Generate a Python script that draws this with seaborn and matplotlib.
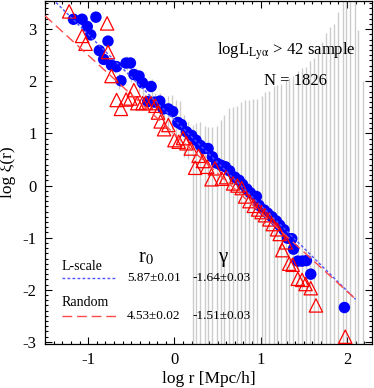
import numpy as np
import pandas as pd
import matplotlib
matplotlib.use("Agg")
import matplotlib.pyplot as plt
from matplotlib.ticker import MultipleLocator
import seaborn as sns

# ---------------- data ----------------
# L-scale sample: log r, log xi
blue_x = [-1.17, -1.07, -1.01, -0.97, -0.91, -0.87, -0.82, -0.77, -0.73, -0.67,
          -0.62, -0.56, -0.51, -0.47, -0.41, -0.37, -0.31, -0.27, -0.23, -0.17,
          -0.13, -0.07, -0.02, 0.04, 0.08, 0.14, 0.20, 0.25, 0.30, 0.34,
          0.39, 0.44, 0.49, 0.54, 0.59, 0.64, 0.70, 0.75, 0.79, 0.84,
          0.88, 0.95, 0.98, 1.04, 1.08, 1.13, 1.18, 1.22, 1.27, 1.31,
          1.36, 1.38, 1.43, 1.48, 1.53, 1.58, 1.97]
blue_y = [3.19, 3.19, 3.05, 2.89, 3.23, 2.59, 2.42, 2.77, 2.31, 2.28,
          2.01, 2.35, 2.35, 2.13, 2.10, 1.97, 1.61, 1.90, 1.60, 1.62,
          1.47, 1.47, 1.42, 1.21, 1.17, 1.03, 0.96, 0.87, 0.77, 0.71,
          0.71, 0.55, 0.43, 0.39, 0.36, 0.28, 0.16, 0.10, 0.02, -0.07,
          -0.14, -0.21, -0.38, -0.47, -0.53, -0.60, -0.68, -0.76, -0.85, -1.01,
          -1.02, -1.22, -1.45, -1.45, -1.44, -1.70, -2.34]

# Random sample
red_x = [-1.22, -1.07, -1.03, -0.78, -0.77, -0.73, -0.67, -0.62, -0.56, -0.51,
         -0.47, -0.43, -0.37, -0.33, -0.27, -0.22, -0.19, -0.16, -0.12, -0.07,
         0.00, 0.05, 0.10, 0.14, 0.19, 0.24, 0.28, 0.33, 0.38, 0.43,
         0.47, 0.55, 0.60, 0.68, 0.73, 0.78, 0.82, 0.87, 0.92, 0.97,
         1.01, 1.05, 1.10, 1.14, 1.19, 1.22, 1.25, 1.29, 1.33, 1.37,
         1.43, 1.48, 1.52, 1.58, 1.64, 1.98]
red_y = [3.34, 2.87, 2.72, 3.11, 2.56, 2.10, 1.64, 1.47, 1.65, 1.67,
         1.83, 1.58, 1.58, 1.59, 1.58, 1.53, 1.40, 1.23, 1.08, 1.16,
         0.87, 0.84, 0.91, 0.81, 0.71, 0.34, 0.57, 0.47, 0.36, 0.12,
         0.33, 0.13, 0.16, 0.04, 0.00, -0.05, -0.21, -0.30, -0.39, -0.46,
         -0.51, -0.57, -0.65, -0.74, -0.84, -0.93, -1.24, -1.09, -1.50, -1.52,
         -1.79, -1.81, -1.89, -1.97, -2.30, -2.90]

# error bars (gray): bin centre, upper and lower log value (lower below axis = -3.5)
err_x = [-0.69, -0.64, -0.59, -0.55, -0.50, -0.45, -0.41, -0.36, -0.31, -0.26,
         -0.22, -0.17, -0.12, -0.08, -0.03, 0.02, 0.07, 0.11, 0.16, 0.21,
         0.25, 0.30, 0.35, 0.39, 0.44, 0.49, 0.54, 0.58, 0.63, 0.68,
         0.72, 0.77, 0.82, 0.86, 0.91, 0.96, 1.01, 1.05, 1.10, 1.15,
         1.19, 1.24, 1.29, 1.33, 1.38, 1.43, 1.48, 1.52, 1.57, 1.62,
         1.66, 1.71, 1.76, 1.80, 1.85, 1.90, 1.95, 1.99, 2.04, 2.09,
         2.13, 2.18]
err_hi = [2.40, 2.15, 2.45, 2.48, 2.28, 2.25, 2.12, 2.05, 1.75, 2.05,
          1.78, 1.78, 1.68, 1.72, 1.74, 1.65, 1.62, 1.35, 1.22, 1.16,
          1.20, 1.22, 1.15, 1.12, 1.12, 1.15, 1.25, 1.35, 1.48, 1.50,
          1.52, 1.60, 1.64, 1.65, 1.66, 1.66, 1.72, 1.80, 1.82, 1.90,
          1.93, 1.95, 2.02, 2.06, 2.10, 2.20, 2.25, 2.28, 2.38, 2.45,
          2.60, 2.75, 2.92, 3.05, 3.10, 3.32, 3.80, 3.80, 3.80, 3.80,
          2.98, 2.00]
err_lo = [2.15, 1.85, 2.20, 2.22, 1.98, 1.95, 1.80, 1.70, 1.45, 1.70,
          1.42, 1.40, 1.15, 1.05, 0.95, 0.80, 0.78, 0.55, 0.50, -3.5,
          -3.5, -3.5, -3.5, -3.5, -3.5, -3.5, -3.5, -3.5, -3.5, -3.5,
          -3.5, -3.5, -3.5, -3.5, -3.5, -3.5, -3.5, -3.5, -3.5, -3.5,
          -3.5, -3.5, -3.5, -3.5, -3.5, -3.5, -3.5, -3.5, -3.5, -3.5,
          -3.5, -3.5, -3.5, -3.5, -3.5, -3.5, -3.5, -3.5, -3.5, -3.5,
          -3.5, -3.5]

# power-law fits
fit_names = ["L-scale", "Random"]
fit_r0 = [5.87, 4.53]
fit_r0_err = [0.01, 0.02]
fit_gamma = [-1.64, -1.51]
fit_gamma_err = [0.03, 0.03]
fit_xrange = [-1.5, 2.1]

# ---------------- style ----------------
sns.set_theme(style="ticks")
plt.rcParams['font.family'] = ['Liberation Serif', 'DejaVu Serif']
plt.rcParams['mathtext.fontset'] = 'stix'
plt.rcParams['axes.unicode_minus'] = False

W, H = 374, 388
fig = plt.figure(figsize=(W / 100, H / 100), dpi=100)
fig.patch.set_facecolor('white')
ax = fig.add_axes([45 / W, 44 / H, 327 / W, 343 / H])
ax.set_facecolor('white')

# gray error bars
ax.vlines(err_x, err_lo, err_hi, color='#cccccc', lw=1.0, zorder=1)

# points
sns.scatterplot(x=blue_x, y=blue_y, ax=ax, color='#0000ff', s=68,
                edgecolor='none', linewidth=0, zorder=3, legend=False)
sns.scatterplot(x=red_x, y=red_y, ax=ax, marker='^', color='#ff0000',
                facecolors='none', edgecolor='#ff0000', s=92, linewidth=0.9,
                zorder=4, legend=False)

# fit lines
line_colors = ['#5050ff', '#ff4a4a']
line_dashes = [(2.0, 1.6), (7.0, 3.5)]
rows = []
for name, r0, g in zip(fit_names, fit_r0, fit_gamma):
    for xx in fit_xrange:
        rows.append({'name': name, 'x': xx, 'y': g * (xx - np.log10(r0))})
fit_df = pd.DataFrame(rows)
for i, name in enumerate(fit_names):
    sub = fit_df[fit_df['name'] == name]
    sns.lineplot(data=sub, x='x', y='y', ax=ax, color=line_colors[i],
                 lw=1.0, dashes=False, zorder=5, legend=False)
    ax.lines[-1].set_dashes(line_dashes[i])

# axes
ax.set_xlim(-1.5, 2.29)
ax.set_ylim(-3.04, 3.54)
ax.xaxis.set_major_locator(MultipleLocator(1))
ax.xaxis.set_minor_locator(MultipleLocator(0.1))
ax.yaxis.set_major_locator(MultipleLocator(1))
ax.yaxis.set_minor_locator(MultipleLocator(0.1))
ax.tick_params(which='both', direction='in', top=True, right=True,
               colors='black', width=0.8)
ax.tick_params(which='major', length=5, labelsize=12, pad=6)
ax.tick_params(which='minor', length=2.5)
for sp in ax.spines.values():
    sp.set_color('black')
    sp.set_linewidth(0.9)

ax.set_xlabel('log r [Mpc/h]', fontsize=12.5, color='black', labelpad=2)
ax.set_ylabel('log ξ(r)', fontsize=12.5, color='black', labelpad=5)

# annotations
ax.text(0.527, 0.845, r'logL$_{\rm Ly\alpha}$ > 42 sample', transform=ax.transAxes,
        fontsize=12, ha='left', va='baseline', color='black')
ax.text(0.765, 0.755, 'N = 1826', transform=ax.transAxes,
        fontsize=12, ha='center', va='baseline', color='black')

ax.text(0.309, 0.251, r'r$_0$', transform=ax.transAxes, fontsize=14.5,
        ha='center', va='center', color='black')
ax.text(0.544, 0.251, 'γ', transform=ax.transAxes, fontsize=15,
        ha='center', va='center', color='black')

leg_y_text = [0.227, 0.120]
leg_y_line = [0.192, 0.082]
leg_x_end = [0.217, 0.226]
for i, name in enumerate(fit_names):
    ax.text(0.052, leg_y_text[i], name, transform=ax.transAxes, fontsize=10,
            ha='left', va='center', color='black')
    ln, = ax.plot([0.052, leg_x_end[i]], [leg_y_line[i]] * 2,
                  transform=ax.transAxes, color=line_colors[i], lw=1.0)
    ln.set_dashes(line_dashes[i])
    ax.text(0.251, leg_y_line[i], f'{fit_r0[i]:.2f}±{fit_r0_err[i]:.2f}',
            transform=ax.transAxes, fontsize=9.5, ha='left', va='center', color='black')
    ax.text(0.450, leg_y_line[i], f'{fit_gamma[i]:.2f}±{fit_gamma_err[i]:.2f}',
            transform=ax.transAxes, fontsize=9.5, ha='left', va='center', color='black')

fig.savefig('out.png', dpi=100, facecolor='white')
